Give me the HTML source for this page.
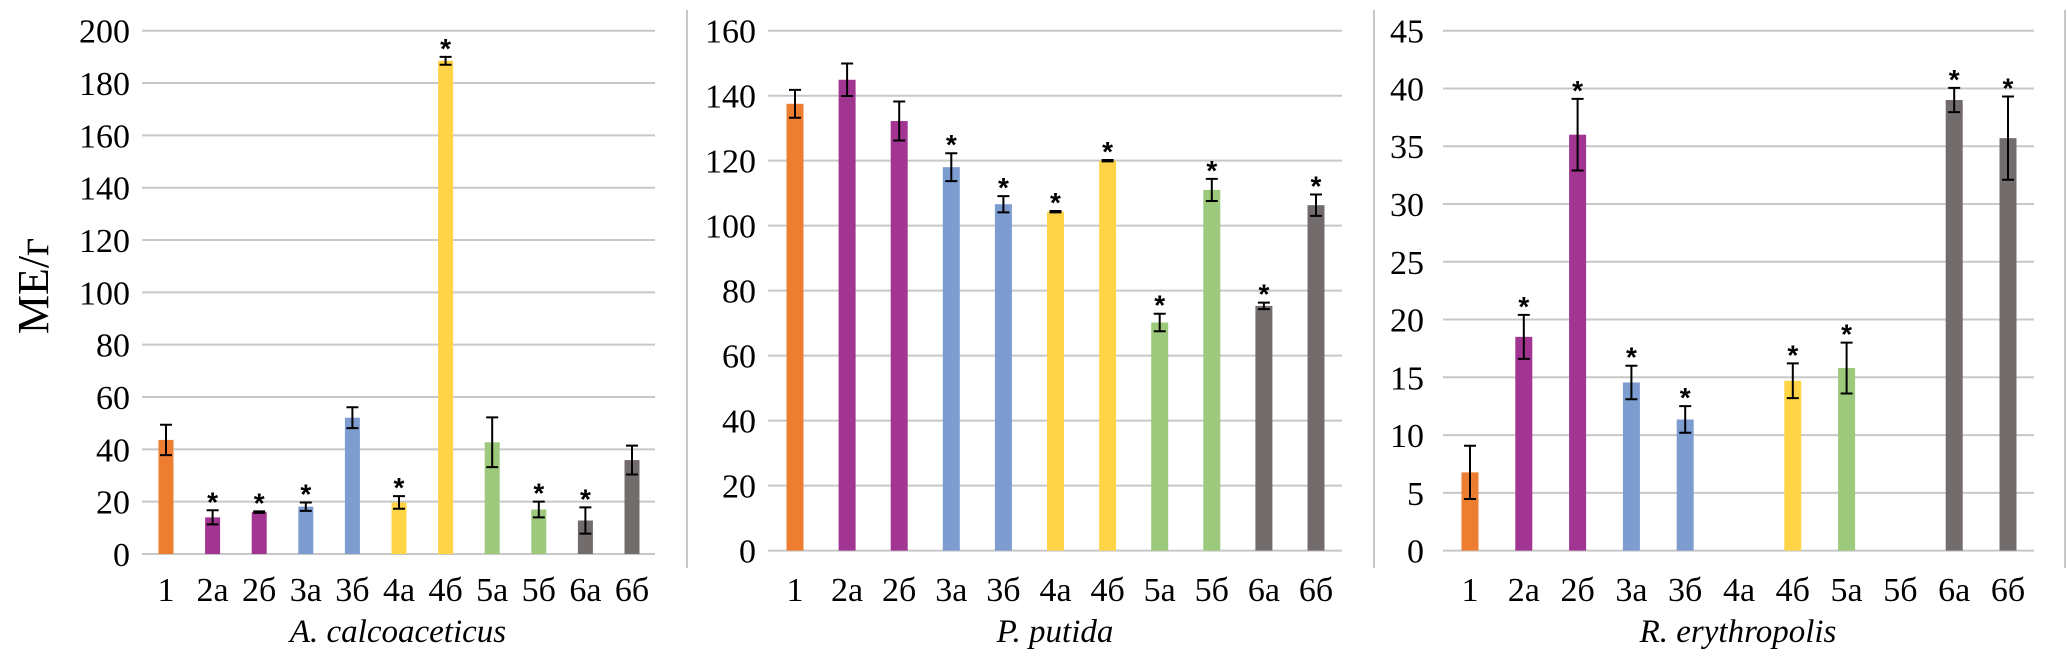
<!DOCTYPE html>
<html><head><meta charset="utf-8"><style>
html,body{margin:0;padding:0;background:#fff;}
svg{display:block;font-family:"Liberation Serif","Noto Serif CJK SC",serif;}
</style></head><body>
<svg id="chart" width="2067" height="659" viewBox="0 0 2067 659" xmlns="http://www.w3.org/2000/svg">
<line x1="687" y1="10" x2="687" y2="568" stroke="#c8c8c8" stroke-width="2"/>
<line x1="1374" y1="10" x2="1374" y2="568" stroke="#c8c8c8" stroke-width="2"/>
<line x1="2065" y1="10" x2="2065" y2="568" stroke="#c8c8c8" stroke-width="2"/>
<text transform="translate(48,286) rotate(-90)" text-anchor="middle" font-size="44">МЕ/г</text>
</svg>
<script>
const categories = ["1","2а","2б","3а","3б","4а","4б","5а","5б","6а","6б"];
const colors = ["#ED7D31","#A33592","#A33592","#7D9DD1","#7D9DD1","#FFD447","#FFD447","#9CC97C","#9CC97C","#736C6C","#736C6C"];
const acValues = [43.6,14,16,18.1,52.1,19.7,188.5,42.7,17,12.8,35.9];
const acErrors = [5.8,2.7,0.3,1.6,4,2.4,1.5,9.5,3,5,5.5];
const acStars = [0,1,1,1,0,1,1,0,1,1,0];
const acTicks = [0,20,40,60,80,100,120,140,160,180,200];
const ppValues = [137.5,144.9,132.2,118,106.6,104.3,120,70.2,111,75.3,106.3];
const ppErrors = [4.3,5,6,4.3,2.5,0.2,0.2,2.7,3.4,1,3.3];
const ppStars = [0,0,0,1,1,1,1,1,1,1,1];
const ppTicks = [0,20,40,60,80,100,120,140,160];
const reValues = [6.77,18.5,36.0,14.55,11.35,null,14.7,15.8,null,39.0,35.7];
const reErrors = [2.3,1.9,3.1,1.45,1.15,0,1.5,2.2,0,1.05,3.6];
const reStars = [0,1,1,1,1,0,1,1,0,1,1];
const reTicks = [0,5,10,15,20,25,30,35,40,45];

const svg = document.getElementById('chart');
const NS = "http://www.w3.org/2000/svg";
function mk(tag, attrs){const e=document.createElementNS(NS,tag);for(const k in attrs)e.setAttribute(k,attrs[k]);svg.appendChild(e);return e;}

const panels = [
 {id:"ac",title:"A. calcoaceticus",values:acValues,errors:acErrors,stars:acStars,ticks:acTicks,left:142,right:655,top:30.7,bottom:554,c0:166,c1:632,bw:15,lab:130,tx:398},
 {id:"pp",title:"P. putida",values:ppValues,errors:ppErrors,stars:ppStars,ticks:ppTicks,left:768,right:1342,top:30.7,bottom:550.6,c0:795,c1:1316,bw:17,lab:756,tx:1055},
 {id:"re",title:"R. erythropolis",values:reValues,errors:reErrors,stars:reStars,ticks:reTicks,left:1443,right:2034,top:30.7,bottom:550.6,c0:1470,c1:2008,bw:17,lab:1424,tx:1738}
];

panels.forEach(p=>{
  const max = p.ticks[p.ticks.length-1];
  const y = v => p.bottom - (v/max)*(p.bottom-p.top);
  const x = i => p.c0 + i*(p.c1-p.c0)/(categories.length-1);
  p.ticks.forEach(t=>{
    const g = mk('line',{x1:p.left,x2:p.right,y1:y(t),y2:y(t),stroke:"#c8c8c8","stroke-width":2});
    
    
    const tl = mk('text',{x:p.lab,y:y(t)+12,"text-anchor":"end","font-size":34});
    tl.textContent = t;
    
    
  });
  categories.forEach((c,i)=>{
    const cl = mk('text',{x:x(i),y:601,"text-anchor":"middle","font-size":34});
    cl.textContent = c;
    
    
    const v = p.values[i];
    if(v===null) return;
    const b = mk('rect',{x:x(i)-p.bw/2,y:y(v),width:p.bw,height:p.bottom-y(v),fill:colors[i]});
    
    
    const e = p.errors[i];
    const yt=y(v+e), yb=y(v-e);
    const eg = mk('path',{d:`M${x(i)} ${yt}V${yb}M${x(i)-6} ${yt}H${x(i)+6}M${x(i)-6} ${yb}H${x(i)+6}`,stroke:"#000","stroke-width":2,fill:"none"});
    
    
    if(p.stars[i]){
      const s = mk('text',{x:x(i),y:yt+1,"text-anchor":"middle","font-size":28,"font-weight":"bold","font-family":"Liberation Sans, sans-serif"});
      s.textContent = "*";
      
      
    }
  });
  const tt = mk('text',{x:p.tx,y:642,"text-anchor":"middle","font-size":33,"font-style":"italic"});
  tt.textContent = p.title;
  
  
});
</script>
</body></html>
